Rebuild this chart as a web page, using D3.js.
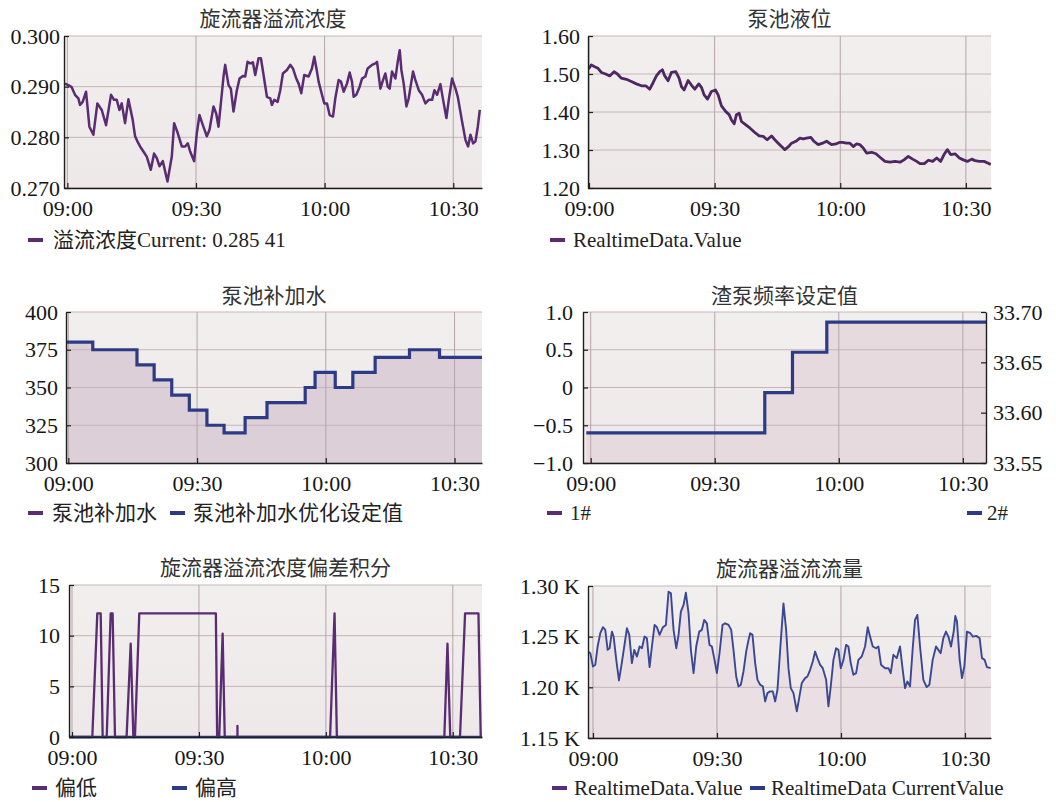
<!DOCTYPE html>
<html>
<head>
<meta charset="utf-8">
<script src="https://cdn.jsdelivr.net/npm/d3@7"></script>
<style>
  body { margin: 0; background: #fff; }
  svg text { font-family: "Liberation Serif", "Noto Sans CJK SC", serif; }
</style>
</head>
<body>
<svg id="chart" width="1056" height="802"></svg>
<script>
// ---- Time axis: minutes after 09:00 ----
const hourTicks = [0, 30, 60, 90];

// 旋流器溢流浓度
const concMin = [-0.54,0.23,1.01,1.79,2.57,2.96,3.58,4.36,5.14,6.07,
  7.00,8.02,9.03,10.19,10.89,11.52,12.14,12.68,13.46,14.24,
  15.25,15.80,16.34,16.96,17.74,18.52,19.46,20.23,20.86,21.48,
  22.26,23.35,24.36,24.90,25.76,26.69,27.47,28.09,28.64,29.57,
  30.19,30.82,31.60,32.53,33.15,34.09,34.71,35.25,35.80,36.42,
  36.81,37.59,38.13,38.75,39.53,40.16,40.93,41.48,42.02,42.65,
  43.27,43.81,44.59,45.14,45.76,46.54,47.32,47.70,48.25,49.03,
  49.65,50.27,51.21,51.98,52.61,53.39,53.93,54.55,55.25,56.26,
  57.04,57.59,58.21,58.60,59.38,59.92,60.54,61.17,61.95,62.49,
  63.27,63.81,64.44,65.21,65.84,66.38,66.77,67.39,68.17,68.72,
  69.49,70.04,71.05,71.83,72.22,73.00,73.62,74.16,74.71,75.18,
  75.72,76.50,77.04,77.51,77.90,78.44,79.07,79.61,80.16,80.62,
  81.17,81.95,82.72,83.50,84.28,85.06,85.60,86.23,87.00,87.63,
  88.40,88.95,89.73,90.51,91.05,92.06,92.84,93.46,94.01,94.63,
  95.18,95.72,96.19];
const concVal = [0.2906,0.2903,0.2899,0.2884,0.2877,0.2864,0.2870,0.2890,0.2821,0.2805,
  0.2867,0.2854,0.2824,0.2884,0.2874,0.2874,0.2854,0.2867,0.2828,0.2875,
  0.2834,0.2802,0.2792,0.2782,0.2772,0.2762,0.2736,0.2768,0.2759,0.2743,
  0.2753,0.2713,0.2762,0.2828,0.2808,0.2782,0.2782,0.2788,0.2772,0.2753,
  0.2808,0.2844,0.2824,0.2802,0.2815,0.2861,0.2847,0.2821,0.2867,0.2920,
  0.2943,0.2903,0.2896,0.2851,0.2893,0.2916,0.2921,0.2920,0.2949,0.2946,
  0.2948,0.2923,0.2956,0.2956,0.2923,0.2880,0.2877,0.2864,0.2874,0.2870,
  0.2893,0.2926,0.2933,0.2943,0.2936,0.2916,0.2906,0.2887,0.2923,0.2920,
  0.2936,0.2959,0.2930,0.2910,0.2884,0.2867,0.2867,0.2844,0.2841,0.2877,
  0.2913,0.2910,0.2890,0.2906,0.2928,0.2910,0.2880,0.2884,0.2900,0.2916,
  0.2920,0.2936,0.2943,0.2946,0.2949,0.2896,0.2913,0.2926,0.2900,0.2896,
  0.2930,0.2916,0.2949,0.2972,0.2933,0.2906,0.2861,0.2877,0.2906,0.2930,
  0.2913,0.2893,0.2884,0.2867,0.2874,0.2874,0.2893,0.2884,0.2905,0.2874,
  0.2838,0.2874,0.2916,0.2896,0.2880,0.2831,0.2795,0.2782,0.2805,0.2788,
  0.2792,0.2821,0.28541];

// 泵池液位
const levelMin = [-0.2,0,0.56,1.35,2.15,2.95,3.98,4.94,5.98,6.77,
  7.73,8.92,10.12,11.31,12.51,13.55,14.50,15.30,16.10,16.89,
  17.53,18.09,18.88,19.68,20.72,21.51,22.07,22.71,23.67,24.46,
  25.26,26.22,26.85,27.49,28.29,29.24,30.20,30.84,31.63,32.67,
  33.47,34.02,34.66,35.22,35.86,36.41,37.45,38.41,39.60,40.64,
  41.59,42.55,43.59,44.38,45.18,45.98,46.77,47.57,48.37,49.40,
  50.36,51.16,51.95,52.99,53.71,54.74,55.78,56.73,57.93,58.96,
  59.76,60.56,61.51,62.31,63.11,63.90,64.70,65.50,66.29,67.49,
  68.53,69.48,70.68,71.87,73.07,74.26,75.22,76.25,77.29,78.25,
  79.04,80.08,81.04,82.07,83.03,83.98,84.78,85.58,86.37,87.41,
  88.45,89.40,90.36,91.39,92.19,93.23,94.34,95.22,95.94];
const levelVal = [1.520,1.515,1.524,1.519,1.515,1.504,1.500,1.495,1.506,1.500,
  1.489,1.486,1.480,1.474,1.469,1.469,1.460,1.477,1.495,1.506,
  1.511,1.495,1.482,1.504,1.506,1.489,1.467,1.458,1.483,1.471,
  1.460,1.474,1.465,1.445,1.434,1.454,1.458,1.445,1.416,1.401,
  1.393,1.379,1.369,1.393,1.397,1.375,1.366,1.358,1.346,1.337,
  1.336,1.327,1.337,1.327,1.318,1.309,1.301,1.308,1.318,1.323,
  1.331,1.329,1.331,1.333,1.323,1.314,1.318,1.323,1.314,1.316,
  1.320,1.320,1.318,1.318,1.309,1.316,1.314,1.305,1.292,1.294,
  1.290,1.281,1.270,1.268,1.270,1.268,1.274,1.283,1.276,1.270,
  1.264,1.264,1.273,1.270,1.279,1.270,1.288,1.301,1.288,1.290,
  1.279,1.274,1.270,1.276,1.272,1.270,1.270,1.266,1.262];

// 泵池补加水优化设定值 (step changes)
const waterMin = [-0.54,5.7,16.0,20.0,24.1,28.2,32.3,36.3,41.2,46.3,55.2,57.5,62.2,66.3,71.5,79.5,86.5,96.4];
const waterVal = [380,375,365,355,345,335,325,320,330,340,350,360,350,360,370,375,370,370];

// 渣泵频率设定值 2#
const pumpMin = [-1.05,42.1,48.8,57.1,95.6];
const pumpVal = [33.58,33.62,33.66,33.69,33.69];

// 旋流器溢流浓度偏差积分
const lowMin = [-0.71,4.8,5.98,6.78,7.25,8.2,9.14,9.6,10.16,12.9,13.87,14.5,14.88,15.9,34.0,34.3,34.8,35.6,36.1,39.1,39.1,39.1,61.0,62.05,62.6,88.0,88.74,89.4,91.7,92.9,96.06,96.6];
const lowVal = [0,0,12.2,12.2,0,0,12.2,12.2,0,0,9.2,0,0,12.2,12.2,0,0,10.2,0,0,1.1,0,0,12.2,0,0,9.2,0,0,12.2,12.2,0];
const highMin = [-0.71,96.9];
const highVal = [0,0];

// 旋流器溢流流量
const flowMin = [-1.21,-0.64,0,0.56,1.13,1.77,2.42,2.98,3.55,4.03,
  4.59,5.00,5.64,6.29,6.85,7.57,8.22,8.78,9.43,9.99,
  10.64,11.28,11.85,12.49,13.05,13.70,14.26,14.91,15.47,16.12,
  16.92,17.65,18.29,18.86,19.50,20.15,20.71,21.27,21.92,22.48,
  23.13,23.69,24.34,24.98,25.71,26.35,26.91,27.56,28.20,28.77,
  29.41,29.98,30.62,31.35,31.99,32.80,33.44,34.00,34.65,35.21,
  35.78,36.42,37.07,37.63,38.03,38.60,39.24,39.81,40.45,41.10,
  41.66,42.22,42.87,43.51,44.08,44.64,45.29,46.09,46.74,47.30,
  47.86,48.51,49.32,49.96,50.52,51.33,51.89,52.54,53.18,53.75,
  54.31,54.96,55.60,56.41,56.97,57.53,58.18,58.82,59.39,59.95,
  60.60,61.24,61.80,62.37,63.01,63.66,64.22,65.03,65.83,66.48,
  67.04,67.69,68.49,69.06,69.70,70.67,71.48,72.04,72.68,73.49,
  74.29,74.94,75.50,76.07,76.71,77.36,77.92,78.49,79.13,79.94,
  80.74,81.39,82.19,83.00,83.56,84.13,84.77,85.41,85.98,86.62,
  87.27,87.67,88.07,88.72,89.28,89.85,90.49,91.30,91.94,92.75,
  93.55,94.12,94.76,95.33,96.21];
const flowVal = [1235.3,1233.7,1220.6,1222.2,1240.3,1253.4,1259.3,1256.7,1237.0,1238.6,
  1255.0,1250.1,1227.1,1206.8,1220.6,1240.3,1258.3,1251.8,1223.9,1237.0,
  1230.4,1240.3,1238.6,1250.1,1248.5,1219.9,1240.3,1261.6,1259.3,1251.8,
  1259.3,1261.6,1294.4,1292.8,1256.7,1238.6,1251.8,1274.7,1281.3,1293.4,
  1273.1,1237.0,1214.0,1240.3,1255.0,1256.7,1266.5,1263.2,1241.9,1240.3,
  1227.1,1214.0,1233.7,1261.6,1263.2,1261.6,1256.7,1237.0,1210.7,1200.9,
  1202.5,1215.7,1235.3,1246.8,1253.4,1251.8,1223.9,1207.4,1202.5,1200.9,
  1186.1,1194.3,1196.0,1196.0,1186.1,1197.6,1237.0,1282.9,1256.7,1218.9,
  1199.2,1194.3,1176.3,1191.0,1204.2,1209.1,1210.7,1217.3,1225.5,1235.3,
  1228.8,1222.2,1218.9,1207.4,1181.2,1200.9,1227.1,1238.6,1237.0,1218.9,
  1227.1,1241.9,1240.3,1223.9,1212.4,1214.0,1227.1,1230.4,1240.3,1259.3,
  1250.1,1240.3,1238.6,1240.3,1222.2,1218.9,1218.9,1214.0,1232.1,1228.8,
  1240.3,1217.3,1199.2,1205.8,1200.9,1238.6,1266.5,1271.4,1240.3,1207.4,
  1200.2,1202.5,1227.1,1240.3,1237.0,1233.7,1248.5,1255.0,1250.1,1240.3,
  1255.0,1270.5,1264.9,1227.1,1209.1,1220.6,1255.0,1253.4,1250.1,1250.8,
  1248.5,1228.8,1227.1,1219.9,1218.9];

// ---- Helpers ----
const FONT = '"Liberation Serif", "Noto Sans CJK SC", serif';
const t0 = new Date(2021, 0, 1, 9, 0, 0);
const at = m => new Date(t0.getTime() + m * 60000);
const zip = (ms, vs) => ms.map((m, i) => ({ t: at(m), v: vs[i] }));

const PURPLE = "#5a2c72";
const BLUE = "#2d3b86";

const svg = d3.select("#chart");
const defs = svg.append("defs");
const grad = defs.append("linearGradient").attr("id", "plotBg")
  .attr("x1", 0).attr("y1", 0).attr("x2", 0).attr("y2", 1);
grad.append("stop").attr("offset", "0%").attr("stop-color", "#f1efee");
grad.append("stop").attr("offset", "100%").attr("stop-color", "#eee8e9");

let clipCount = 0;

function styleAxis(sel) {
  sel.attr("font-family", null).attr("font-size", null);
  sel.select(".domain").attr("stroke", "#1e1e1e").attr("stroke-width", 1.4);
  sel.selectAll(".tick line").attr("stroke", "#1e1e1e").attr("stroke-width", 1.2);
  sel.selectAll(".tick text").attr("fill", "#161616")
    .style("font-family", FONT).style("font-size", "22px");
}

function frame(o) {
  const g = svg.append("g");
  const x = d3.scaleTime().domain(o.xDom.map(at)).range([o.l, o.r]);
  const y = d3.scaleLinear().domain(o.yDom).range([o.b, o.t]);

  g.append("rect").attr("x", o.l).attr("y", o.t)
    .attr("width", o.r - o.l).attr("height", o.b - o.t)
    .attr("fill", "url(#plotBg)");

  const clipId = "plotClip" + (++clipCount);
  defs.append("clipPath").attr("id", clipId).append("rect")
    .attr("x", o.l).attr("y", o.t - 3).attr("width", o.r - o.l).attr("height", o.b - o.t + 6);

  const fillLayer = g.append("g").attr("clip-path", `url(#${clipId})`);
  const gridLayer = g.append("g");
  const lineLayer = g.append("g").attr("clip-path", `url(#${clipId})`);

  gridLayer.selectAll("line.h").data(o.yTicks).join("line").attr("class", "h")
    .attr("x1", o.l).attr("x2", o.r)
    .attr("y1", d => y(d)).attr("y2", d => y(d))
    .attr("stroke", "#c6b5ba").attr("stroke-width", 1);
  gridLayer.selectAll("line.v").data(hourTicks.map(at)).join("line").attr("class", "v")
    .attr("x1", d => x(d)).attr("x2", d => x(d))
    .attr("y1", o.t).attr("y2", o.b)
    .attr("stroke", "#b5a4a9").attr("stroke-width", 1);

  g.append("g").attr("transform", `translate(0,${o.b})`)
    .call(d3.axisBottom(x).tickValues(hourTicks.map(at)).tickFormat(d3.timeFormat("%H:%M"))
      .tickSizeInner(-5).tickSizeOuter(0).tickPadding(12))
    .call(styleAxis);
  g.append("g").attr("transform", `translate(${o.l},0)`)
    .call(d3.axisLeft(y).tickValues(o.yTicks).tickFormat(o.fmt)
      .tickSizeInner(-5).tickSizeOuter(0).tickPadding(o.pad))
    .call(styleAxis);

  g.append("text").attr("x", (o.l + o.r) / 2).attr("y", o.titleY)
    .attr("text-anchor", "middle").attr("fill", "#333")
    .style("font-family", FONT).style("font-size", "21px")
    .text(o.title);

  o.legend.forEach(it => {
    g.append("rect").attr("x", it.x).attr("y", o.legendY - 2)
      .attr("width", 15).attr("height", 4).attr("fill", it.color);
    g.append("text").attr("x", it.x + it.gap).attr("y", o.legendY + 7)
      .attr("fill", "#222")
      .style("font-family", FONT).style("font-size", "21px")
      .text(it.label);
  });

  return { g, x, y, fillLayer, lineLayer };
}

// ---- Panel 1: 旋流器溢流浓度 ----
{
  const p = frame({
    l: 64, r: 482, t: 36, b: 188, xDom: [-0.78, 96.7], yDom: [0.270, 0.300],
    yTicks: [0.270, 0.280, 0.290, 0.300], fmt: d3.format(".3f"), pad: 4,
    title: "旋流器溢流浓度", titleY: 26, legendY: 240,
    legend: [{ x: 28, gap: 25, color: PURPLE, label: "溢流浓度Current: 0.285 41" }]
  });
  p.lineLayer.append("path").datum(zip(concMin, concVal))
    .attr("fill", "none").attr("stroke", PURPLE).attr("stroke-width", 2.5)
    .attr("stroke-linejoin", "round")
    .attr("d", d3.line().x(d => p.x(d.t)).y(d => p.y(d.v)));
}

// ---- Panel 2: 泵池液位 ----
{
  const p = frame({
    l: 588, r: 991, t: 36, b: 188, xDom: [-0.24, 96.0], yDom: [1.20, 1.60],
    yTicks: [1.20, 1.30, 1.40, 1.50, 1.60], fmt: d3.format(".2f"), pad: 8,
    title: "泵池液位", titleY: 26, legendY: 240,
    legend: [{ x: 550, gap: 23, color: PURPLE, label: "RealtimeData.Value" }]
  });
  p.lineLayer.append("path").datum(zip(levelMin, levelVal))
    .attr("fill", "none").attr("stroke", "#4d2860").attr("stroke-width", 2.8)
    .attr("stroke-linejoin", "round")
    .attr("d", d3.line().x(d => p.x(d.t)).y(d => p.y(d.v)));
}

// ---- Panel 3: 泵池补加水 ----
{
  const p = frame({
    l: 66, r: 482, t: 312, b: 463, xDom: [-0.54, 96.4], yDom: [300, 400],
    yTicks: [300, 325, 350, 375, 400], fmt: d3.format("d"), pad: 8,
    title: "泵池补加水", titleY: 303, legendY: 513,
    legend: [
      { x: 28, gap: 24, color: PURPLE, label: "泵池补加水" },
      { x: 170, gap: 23, color: BLUE, label: "泵池补加水优化设定值" }
    ]
  });
  const data = zip(waterMin, waterVal);
  p.fillLayer.append("path").datum(data)
    .attr("fill", "#dccfd8")
    .attr("d", d3.area().curve(d3.curveStepAfter).x(d => p.x(d.t)).y0(p.y(300)).y1(d => p.y(d.v)));
  p.lineLayer.append("path").datum(data)
    .attr("fill", "none").attr("stroke", BLUE).attr("stroke-width", 3.2)
    .attr("d", d3.line().curve(d3.curveStepAfter).x(d => p.x(d.t)).y(d => p.y(d.v)));
}

// ---- Panel 4: 渣泵频率设定值 ----
{
  const o = {
    l: 583, r: 986, t: 312, b: 463, xDom: [-1.86, 95.6], yDom: [-1.0, 1.0],
    yTicks: [-1.0, -0.5, 0, 0.5, 1.0],
    fmt: d => d === 0 ? "0" : d3.format(".1f")(d), pad: 10,
    title: "渣泵频率设定值", titleY: 303, legendY: 513,
    legend: [
      { x: 547, gap: 23, color: PURPLE, label: "1#" },
      { x: 967, gap: 20, color: BLUE, label: "2#" }
    ]
  };
  const p = frame(o);
  const y2 = d3.scaleLinear().domain([33.55, 33.70]).range([o.b, o.t]);
  p.g.append("g").attr("transform", `translate(${o.r},0)`)
    .call(d3.axisRight(y2).tickValues([33.55, 33.60, 33.65, 33.70]).tickFormat(d3.format(".2f"))
      .tickSizeInner(-5).tickSizeOuter(0).tickPadding(7))
    .call(styleAxis);
  const data = zip(pumpMin, pumpVal);
  p.fillLayer.append("path").datum(data)
    .attr("fill", "#e6dadf")
    .attr("d", d3.area().curve(d3.curveStepAfter).x(d => p.x(d.t)).y0(o.b).y1(d => y2(d.v)));
  p.lineLayer.append("path").datum(data)
    .attr("fill", "none").attr("stroke", BLUE).attr("stroke-width", 3.2)
    .attr("d", d3.line().curve(d3.curveStepAfter).x(d => p.x(d.t)).y(d => y2(d.v)));
}

// ---- Panel 5: 旋流器溢流浓度偏差积分 ----
{
  const p = frame({
    l: 69, r: 482, t: 585, b: 737, xDom: [-0.71, 96.9], yDom: [0, 15],
    yTicks: [0, 5, 10, 15], fmt: d3.format("d"), pad: 9,
    title: "旋流器溢流浓度偏差积分", titleY: 575, legendY: 788,
    legend: [
      { x: 32, gap: 23, color: PURPLE, label: "偏低" },
      { x: 172, gap: 23, color: BLUE, label: "偏高" }
    ]
  });
  const line = d3.line().x(d => p.x(d.t)).y(d => p.y(d.v));
  p.lineLayer.append("path").datum(zip(lowMin, lowVal))
    .attr("fill", "none").attr("stroke", PURPLE).attr("stroke-width", 2.3)
    .attr("stroke-linejoin", "round").attr("d", line);
  p.lineLayer.append("path").datum(zip(highMin, highVal))
    .attr("fill", "none").attr("stroke", BLUE).attr("stroke-width", 2.6).attr("d", line);
}

// ---- Panel 6: 旋流器溢流流量 ----
{
  const p = frame({
    l: 588, r: 991, t: 586, b: 738, xDom: [-1.2, 96.3], yDom: [1150, 1300],
    yTicks: [1150, 1200, 1250, 1300], fmt: d => d3.format(".2f")(d / 1000) + " K", pad: 8,
    title: "旋流器溢流流量", titleY: 576, legendY: 788,
    legend: [
      { x: 552, gap: 22, color: PURPLE, label: "RealtimeData.Value" },
      { x: 750, gap: 21, color: BLUE, label: "RealtimeData CurrentValue" }
    ]
  });
  const data = zip(flowMin, flowVal);
  p.fillLayer.append("path").datum(data)
    .attr("fill", "#eadfe3")
    .attr("d", d3.area().x(d => p.x(d.t)).y0(p.y(1150)).y1(d => p.y(d.v)));
  p.lineLayer.append("path").datum(data)
    .attr("fill", "none").attr("stroke", "#3a4894").attr("stroke-width", 1.9)
    .attr("stroke-linejoin", "round")
    .attr("d", d3.line().x(d => p.x(d.t)).y(d => p.y(d.v)));
}
</script>
</body>
</html>
